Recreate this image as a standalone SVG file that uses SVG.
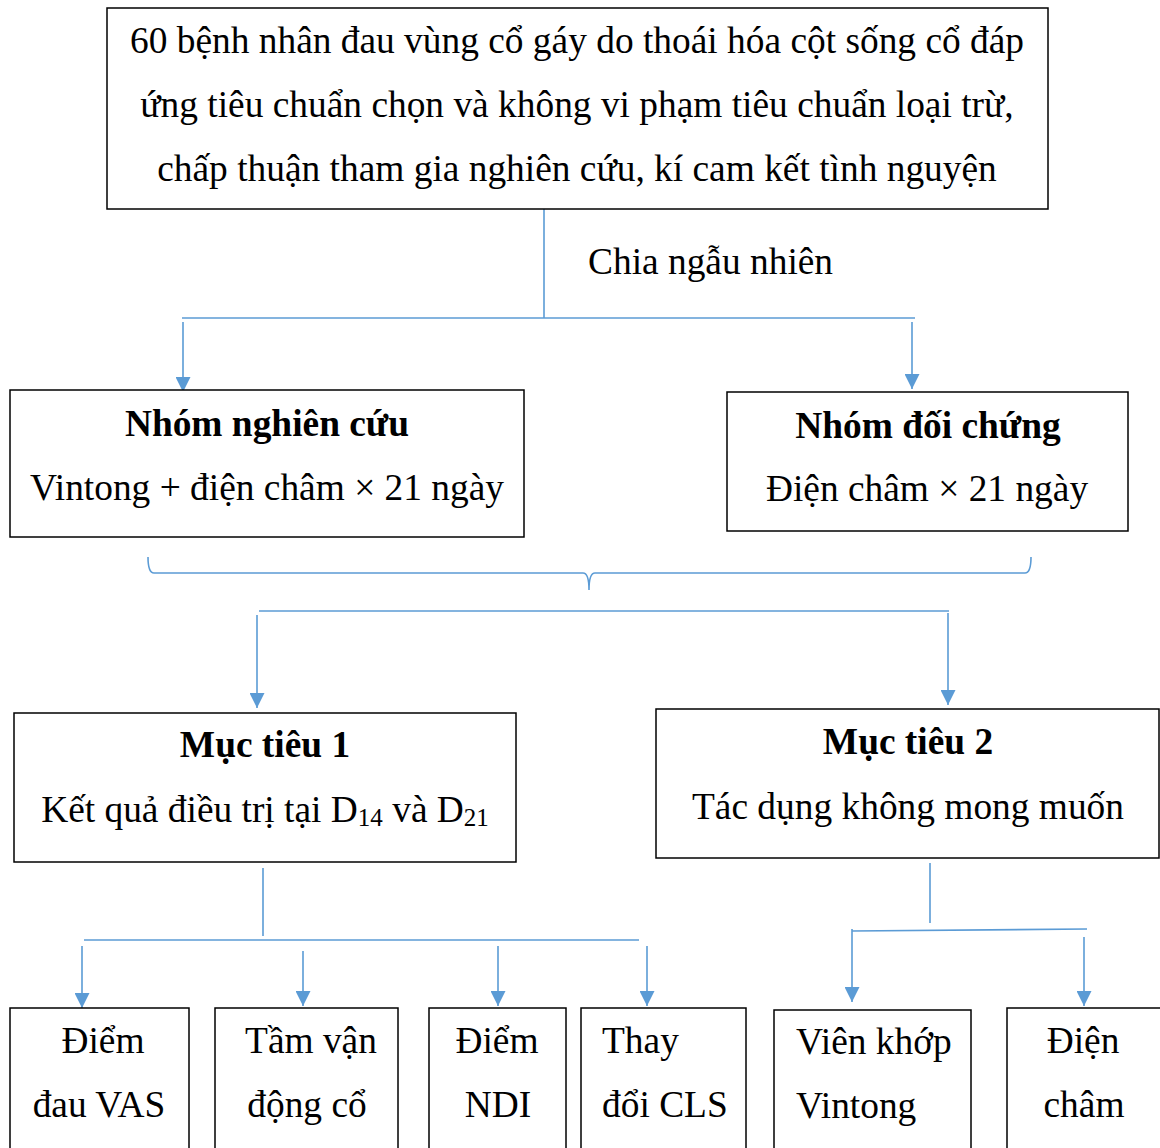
<svg xmlns="http://www.w3.org/2000/svg" width="1160" height="1148" viewBox="0 0 1160 1148">
<defs>
<marker id="ah" viewBox="0 0 10 10" refX="10" refY="5" markerWidth="15" markerHeight="15" markerUnits="userSpaceOnUse" orient="auto">
<path d="M0,0 L10,5 L0,10 Z" fill="#5B9BD5"/>
</marker>
<style>
.box{fill:#fff;stroke:#000;stroke-width:1.5}
.t{font-family:"Liberation Serif","Times New Roman",serif;font-size:37.4px;fill:#000}
.c{text-anchor:middle}
.b{font-weight:bold}
.ln{fill:none;stroke:#5B9BD5;stroke-width:1.6}
.ar{fill:none;stroke:#5B9BD5;stroke-width:1.6;marker-end:url(#ah)}
</style>
</defs>
<rect width="1160" height="1148" fill="#fff"/>

<g id="connectors">
<path class="ln" d="M544,209 V318"/>
<path class="ln" d="M182,318 H915"/>
<path class="ar" d="M183,322 V392"/>
<path class="ar" d="M912,322 V389"/>
<path class="ln" d="M148,557 Q148,573 154,573 L583,573 Q589,573 589,590 Q589,573 595,573 L1025,573 Q1031,573 1031,557"/>
<path class="ln" d="M259,611 H949"/>
<path class="ar" d="M257,615 V708"/>
<path class="ar" d="M948,613 V705"/>
<path class="ln" d="M263,868 V936"/>
<path class="ln" d="M84,940 H639"/>
<path class="ar" d="M82,946 V1008"/>
<path class="ar" d="M303,951 V1006"/>
<path class="ar" d="M498,946 V1006"/>
<path class="ar" d="M647,946 V1006"/>
<path class="ln" d="M930,863 V923"/>
<path class="ln" d="M852,931 L1087,929"/>
<path class="ar" d="M852,929 V1002"/>
<path class="ar" d="M1084,937 V1006"/>
</g>

<g id="n-top">
<rect class="box" x="107" y="8" width="941" height="201"/>
<text class="t c" x="577" y="53">60 bệnh nhân đau vùng cổ gáy do thoái hóa cột sống cổ đáp</text>
<text class="t c" x="577" y="117">ứng tiêu chuẩn chọn và không vi phạm tiêu chuẩn loại trừ,</text>
<text class="t c" x="577" y="181">chấp thuận tham gia nghiên cứu, kí cam kết tình nguyện</text>
</g>

<g id="lbl-chia">
<text class="t" x="588" y="274">Chia ngẫu nhiên</text>
</g>

<g id="n-nghiencuu">
<rect class="box" x="10" y="390" width="514" height="147"/>
<text class="t c b" x="267" y="436">Nhóm nghiên cứu</text>
<text class="t c" x="267" y="500">Vintong + điện châm × 21 ngày</text>
</g>

<g id="n-doichung">
<rect class="box" x="727" y="392" width="401" height="139"/>
<text class="t c b" x="928" y="438">Nhóm đối chứng</text>
<text class="t c" x="927" y="501">Điện châm × 21 ngày</text>
</g>

<g id="n-muctieu1">
<rect class="box" x="14" y="713" width="502" height="149"/>
<text class="t c b" x="265" y="757">Mục tiêu 1</text>
<text class="t c" x="265" y="822">Kết quả điều trị tại D<tspan font-size="25" dy="4">14</tspan><tspan dy="-4"> và D</tspan><tspan font-size="25" dy="4">21</tspan></text>
</g>

<g id="n-muctieu2">
<rect class="box" x="656" y="709" width="503" height="149"/>
<text class="t c b" x="908" y="754">Mục tiêu 2</text>
<text class="t c" x="908" y="819">Tác dụng không mong muốn</text>
</g>

<g id="n-vas">
<rect class="box" x="10" y="1008" width="179" height="160"/>
<text class="t c" x="103" y="1053">Điểm</text>
<text class="t c" x="99" y="1117">đau VAS</text>
</g>

<g id="n-tamvan">
<rect class="box" x="215" y="1008" width="183" height="160"/>
<text class="t c" x="311" y="1053">Tầm vận</text>
<text class="t c" x="307" y="1117">động cổ</text>
</g>

<g id="n-ndi">
<rect class="box" x="429" y="1008" width="137" height="160"/>
<text class="t c" x="497" y="1053">Điểm</text>
<text class="t c" x="498" y="1117">NDI</text>
</g>

<g id="n-cls">
<rect class="box" x="581" y="1008" width="165" height="160"/>
<text class="t" x="602" y="1053">Thay</text>
<text class="t" x="602" y="1117">đổi CLS</text>
</g>

<g id="n-vienkhop">
<rect class="box" x="774" y="1010" width="197" height="160"/>
<text class="t" x="796" y="1054">Viên khớp</text>
<text class="t" x="796" y="1118">Vintong</text>
</g>

<g id="n-dienscham">
<rect class="box" x="1007" y="1008" width="160" height="160"/>
<text class="t c" x="1083" y="1053">Điện</text>
<text class="t c" x="1084" y="1117">châm</text>
</g>
</svg>
